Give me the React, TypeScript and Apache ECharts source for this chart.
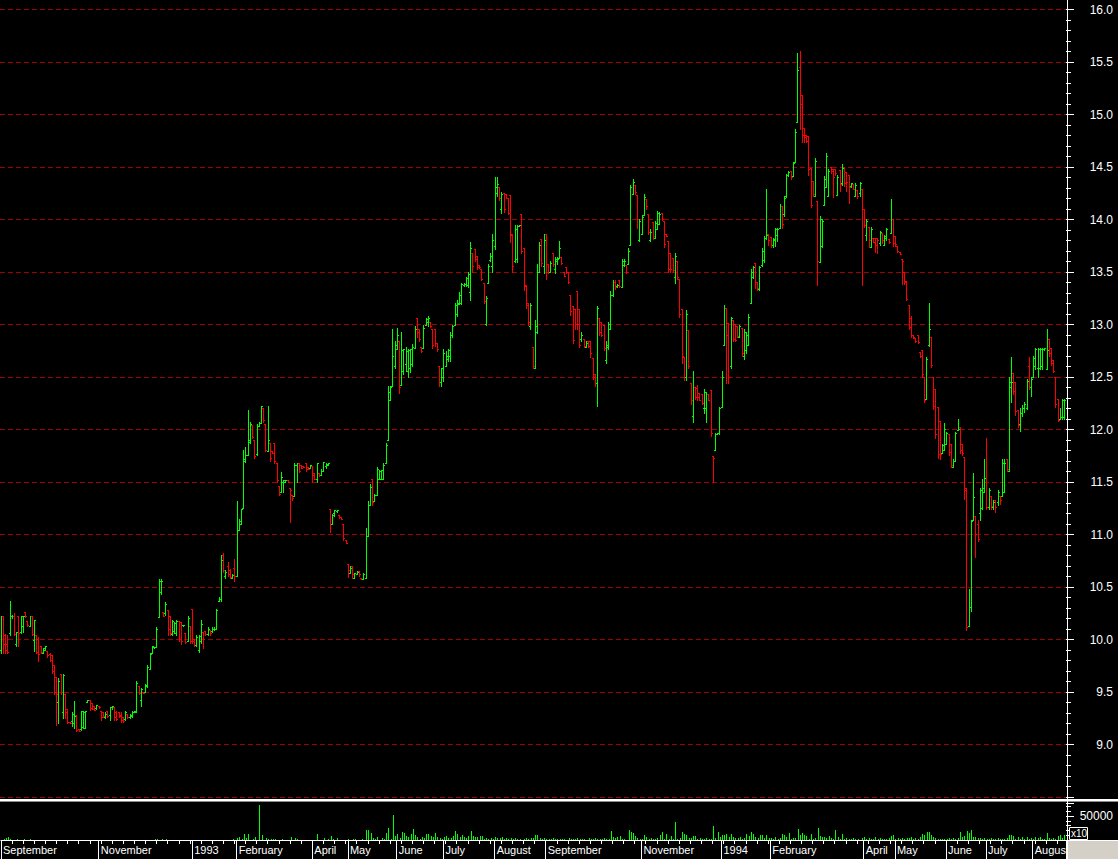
import React, { useEffect, useRef } from "react";
import * as echarts from "echarts";

// [open, high, low, close] per trading day
const priceBars: number[][] = [
  // Sep-Oct 1992
  [9.90,10.22,9.87,10.22],[10.22,10.22,9.87,9.95],[10.04,10.05,9.87,9.90],[9.95,10.04,9.87,9.88],[10.06,10.36,10.04,10.22],
  [10.22,10.23,10.20,10.22],[10.22,10.25,10.04,10.05],[9.95,10.07,9.93,10.07],[10.22,10.22,9.93,10.06],[10.07,10.22,10.06,10.22],
  [10.12,10.22,10.07,10.22],[10.26,10.26,10.21,10.22],[10.17,10.17,10.12,10.13],[10.12,10.22,10.12,10.22],[10.22,10.22,10.04,10.05],
  [9.99,10.18,9.89,10.18],[10.04,10.04,9.87,9.88],[10.00,10.02,9.79,9.86],[9.93,9.93,9.87,9.88],[9.87,9.91,9.87,9.91],
  [9.90,9.93,9.90,9.93],[9.89,9.89,9.83,9.85],[9.86,9.87,9.79,9.80],[9.85,9.85,9.68,9.70],[9.75,9.75,9.48,9.50],
  [9.64,9.64,9.18,9.48],[9.40,9.63,9.20,9.60],[9.67,9.67,9.48,9.50],[9.30,9.67,9.25,9.66],[9.48,9.48,9.25,9.30],
  [9.33,9.33,9.20,9.21],[9.21,9.21,9.20,9.20],[9.22,9.30,9.17,9.29],[9.20,9.41,9.15,9.27],[9.28,9.28,9.12,9.13],
  [9.14,9.14,9.12,9.12],[9.14,9.31,9.13,9.31],[9.16,9.31,9.15,9.30],[9.15,9.31,9.15,9.31],[9.40,9.42,9.40,9.42],
  [9.42,9.42,9.32,9.34],[9.39,9.39,9.33,9.33],[9.36,9.36,9.32,9.32],[9.34,9.37,9.33,9.37],
  // Nov-Dec 1992
  [9.36,9.36,9.34,9.35],[9.31,9.31,9.23,9.26],[9.30,9.30,9.26,9.27],[9.26,9.30,9.25,9.29],[9.31,9.31,9.26,9.27],
  [9.28,9.35,9.23,9.35],[9.35,9.36,9.33,9.36],[9.35,9.35,9.23,9.26],[9.30,9.31,9.23,9.24],[9.30,9.30,9.26,9.27],
  [9.28,9.30,9.21,9.23],[9.26,9.26,9.21,9.22],[9.24,9.31,9.23,9.30],[9.29,9.29,9.25,9.26],[9.26,9.29,9.25,9.28],
  [9.27,9.31,9.26,9.30],[9.30,9.31,9.30,9.31],[9.30,9.60,9.30,9.58],[9.55,9.55,9.48,9.49],[9.42,9.53,9.36,9.52],
  [9.50,9.50,9.49,9.49],[9.50,9.57,9.50,9.56],[9.55,9.75,9.54,9.73],[9.71,9.87,9.71,9.86],[9.87,9.93,9.87,9.93],
  [9.92,9.92,9.91,9.92],[9.92,10.11,9.92,10.10],[10.21,10.57,10.21,10.55],[10.45,10.57,10.43,10.55],[10.26,10.26,10.22,10.22],
  [10.25,10.35,10.23,10.33],[10.28,10.28,10.04,10.10],[10.22,10.22,10.04,10.06],[10.05,10.18,10.04,10.17],[10.08,10.16,10.06,10.15],
  [10.06,10.18,10.04,10.17],[10.17,10.17,9.98,10.00],[10.16,10.16,9.95,9.98],[10.13,10.13,10.12,10.13],[10.06,10.06,9.96,9.97],
  [9.98,10.22,9.98,10.20],[10.12,10.12,9.96,9.98],
  // Jan 1993
  [10.29,10.29,9.96,9.98],[10.00,10.00,9.93,9.94],[9.94,10.04,9.93,10.02],[9.90,10.04,9.88,10.03],[9.98,10.18,9.96,10.14],
  [10.07,10.07,9.91,10.00],[10.08,10.08,10.04,10.05],[10.05,10.11,10.04,10.10],[10.09,10.09,10.04,10.06],[10.08,10.11,10.07,10.10],
  [10.10,10.11,10.09,10.10],[10.10,10.29,10.10,10.28],[10.36,10.40,10.36,10.38],[10.38,10.80,10.36,10.75],[10.80,10.82,10.64,10.66],
  [10.60,10.66,10.58,10.64],[10.70,10.73,10.60,10.62],[10.66,10.67,10.58,10.59],[10.58,10.62,10.58,10.61],[10.68,10.76,10.55,10.60],
  // Feb-Mar 1993
  [10.60,11.31,10.60,11.04],[11.04,11.14,11.04,11.10],[11.12,11.24,11.10,11.24],[11.25,11.80,11.25,11.71],[11.70,11.83,11.69,11.75],
  [11.75,12.18,11.75,11.90],[11.88,12.07,11.87,12.05],[12.04,12.04,11.91,11.92],[11.90,11.90,11.72,11.74],[11.76,12.05,11.75,12.03],
  [12.03,12.07,12.03,12.06],[12.06,12.22,12.06,12.22],[12.20,12.20,12.07,12.09],[12.05,12.05,11.79,11.80],[11.79,12.22,11.79,11.90],
  [11.87,11.87,11.70,11.72],[11.79,11.79,11.77,11.77],[11.87,11.87,11.68,11.70],[11.68,11.68,11.50,11.51],[11.46,11.46,11.37,11.38],
  [11.40,11.59,11.40,11.54],[11.50,11.51,11.40,11.51],[11.50,11.51,11.50,11.51],[11.51,11.51,11.50,11.50],[11.44,11.44,11.11,11.42],
  [11.37,11.37,11.32,11.34],[11.36,11.68,11.36,11.66],[11.66,11.68,11.50,11.68],[11.68,11.68,11.59,11.60],[11.66,11.66,11.63,11.63],
  [11.65,11.65,11.64,11.64],[11.68,11.68,11.60,11.62],[11.64,11.64,11.62,11.62],[11.63,11.66,11.63,11.66],
  // Apr 1993
  [11.65,11.65,11.50,11.56],[11.58,11.58,11.52,11.52],[11.52,11.68,11.50,11.68],[11.58,11.58,11.55,11.56],[11.56,11.62,11.56,11.60],
  [11.60,11.69,11.60,11.69],[11.65,11.68,11.63,11.67],[11.66,11.68,11.66,11.68],[11.24,11.24,11.02,11.10],[11.10,11.19,11.10,11.18],
  [11.20,11.23,11.17,11.23],[11.22,11.23,11.21,11.23],[11.18,11.18,11.15,11.16],[11.16,11.16,11.14,11.14],[11.10,11.10,10.94,10.96],
  [10.94,10.94,10.91,10.91],
  // May 1993
  [10.71,10.71,10.59,10.66],[10.63,10.70,10.63,10.68],[10.70,10.70,10.58,10.62],[10.58,10.63,10.58,10.63],[10.62,10.65,10.62,10.64],
  [10.65,10.65,10.60,10.62],[10.58,10.58,10.57,10.57],[10.57,10.63,10.57,10.62],[10.58,11.06,10.58,10.98],[10.98,11.31,10.98,11.28],
  [11.28,11.48,11.28,11.45],[11.52,11.52,11.28,11.30],[11.31,11.38,11.31,11.37],[11.37,11.64,11.37,11.62],[11.52,11.61,11.52,11.60],
  [11.52,11.61,11.52,11.61],[11.52,11.68,11.52,11.66],[11.68,11.87,11.68,11.85],[11.90,12.41,11.90,12.35],[12.28,12.41,12.28,12.40],
  [12.41,12.95,12.41,12.70],[12.60,12.84,12.58,12.80],
  // Jun 1993
  [12.76,12.96,12.76,12.90],[12.84,12.84,12.34,12.40],[12.42,12.92,12.42,12.75],[12.55,12.76,12.52,12.76],[12.62,12.78,12.55,12.74],
  [12.55,12.76,12.50,12.75],[12.58,12.76,12.54,12.76],[12.62,12.81,12.60,12.78],[12.77,12.98,12.77,12.95],[13.06,13.06,12.88,12.92],
  [12.95,12.95,12.84,12.86],[12.78,12.78,12.73,12.74],[12.77,12.99,12.77,12.96],[12.99,13.06,12.99,13.05],[13.02,13.08,12.98,13.06],
  [13.02,13.02,12.97,12.98],[12.95,12.95,12.77,12.80],[12.95,12.95,12.79,12.82],[12.82,12.82,12.74,12.76],[12.60,12.60,12.41,12.45],
  [12.45,12.58,12.41,12.58],
  // Jul 1993
  [12.50,12.76,12.46,12.72],[12.60,12.74,12.60,12.70],[12.67,12.76,12.65,12.75],[12.70,12.92,12.65,12.90],[12.90,12.99,12.88,12.98],
  [12.99,13.20,12.99,13.18],[13.10,13.23,13.08,13.20],[13.19,13.30,13.19,13.28],[13.20,13.39,13.19,13.38],[13.37,13.39,13.36,13.38],
  [13.38,13.45,13.36,13.44],[13.37,13.50,13.35,13.48],[13.30,13.78,13.23,13.72],[13.68,13.68,13.50,13.55],[13.71,13.71,13.60,13.62],
  [13.65,13.65,13.52,13.54],[13.56,13.56,13.53,13.54],[13.52,13.52,13.42,13.43],[13.39,13.39,13.20,13.22],[13.00,13.27,12.99,13.25],
  [13.39,13.57,13.39,13.55],[13.61,13.68,13.60,13.65],[13.55,13.86,13.50,13.80],
  // Aug 1993
  [13.74,14.40,13.71,14.30],[14.25,14.40,14.22,14.33],[14.30,14.30,14.18,14.20],[14.10,14.26,14.06,14.24],[14.25,14.25,14.07,14.10],
  [14.24,14.24,14.20,14.20],[14.20,14.20,14.05,14.06],[14.23,14.23,13.78,13.85],[13.86,13.86,13.50,13.55],[13.60,13.94,13.59,13.90],
  [13.62,13.94,13.59,13.93],[13.93,13.94,13.93,13.94],[14.05,14.05,13.68,13.70],[13.72,13.72,13.32,13.36],[13.37,13.37,13.15,13.18],
  [13.20,13.20,12.99,13.02],[12.98,13.20,12.95,13.18],[12.78,12.78,12.58,12.60],[12.58,13.04,12.58,12.98],[12.92,13.57,12.91,13.50],
  [13.50,13.78,13.50,13.75],[13.81,13.81,13.55,13.58],[13.55,13.86,13.49,13.80],
  // Sep-Oct 1993
  [13.86,13.86,13.43,13.50],[13.57,13.57,13.49,13.50],[13.50,13.60,13.50,13.58],[13.68,13.68,13.55,13.57],[13.52,13.64,13.49,13.62],
  [13.60,13.64,13.57,13.62],[13.63,13.79,13.63,13.72],[13.64,13.64,13.57,13.58],[13.50,13.50,13.46,13.46],[13.54,13.54,13.49,13.50],
  [13.50,13.50,13.39,13.40],[13.28,13.28,13.09,13.12],[13.17,13.17,12.82,12.85],[13.14,13.14,12.95,13.00],[13.31,13.31,12.95,13.00],
  [13.14,13.14,12.78,12.80],[12.86,12.92,12.84,12.90],[12.86,12.86,12.78,12.79],[12.78,12.84,12.78,12.82],[12.84,12.84,12.78,12.79],
  [12.84,12.84,12.69,12.72],[12.68,12.68,12.48,12.50],[12.52,12.52,12.41,12.44],[12.44,13.17,12.22,13.15],[13.06,13.06,12.90,12.92],
  [13.02,13.02,12.89,12.90],[12.99,12.99,12.75,12.77],[12.66,12.84,12.63,12.80],[12.78,13.02,12.76,13.00],[12.95,13.31,12.95,13.28],
  [13.28,13.42,13.27,13.40],[13.40,13.42,13.33,13.35],[13.36,13.38,13.35,13.37],[13.42,13.42,13.35,13.36],[13.35,13.62,13.35,13.60],
  [13.56,13.62,13.55,13.60],[13.56,13.56,13.49,13.50],[13.57,13.72,13.57,13.70],[13.75,14.32,13.75,14.30],[14.24,14.38,14.24,14.35],
  [14.32,14.32,14.24,14.26],[14.23,14.23,13.91,14.00],[13.80,14.00,13.79,13.98],
  // Nov-Dec 1993
  [13.86,14.04,13.86,14.02],[14.04,14.24,14.04,14.21],[14.19,14.19,14.10,14.12],[14.05,14.05,13.86,13.88],[13.80,13.90,13.79,13.88],
  [13.97,13.97,13.81,13.84],[13.82,13.98,13.82,13.96],[13.90,14.08,13.90,14.06],[13.95,14.07,13.95,14.05],[14.06,14.06,13.99,14.00],
  [13.98,13.98,13.73,13.76],[13.86,13.86,13.84,13.84],[13.79,13.79,13.50,13.52],[13.68,13.68,13.50,13.52],[13.63,13.63,13.50,13.51],
  [13.45,13.68,13.39,13.65],[13.60,13.60,13.43,13.45],[13.43,13.43,13.07,13.10],[13.14,13.14,12.63,12.70],[12.69,12.69,12.47,12.50],
  [12.50,13.13,12.47,13.10],[12.94,12.94,12.58,12.60],[12.44,12.44,12.24,12.28],[12.12,12.55,12.07,12.40],[12.40,12.40,12.29,12.30],
  [12.39,12.42,12.28,12.30],[12.34,12.34,12.28,12.28],[12.33,12.33,12.24,12.25],[12.20,12.38,12.15,12.35],[12.20,12.35,12.07,12.33],
  [12.33,12.33,12.28,12.28],[12.37,12.37,11.93,11.96],[11.74,11.74,11.50,11.72],[11.80,11.96,11.80,11.95],[11.95,11.96,11.95,11.96],
  [11.96,12.21,11.95,12.20],
  // Jan 1994
  [12.21,12.55,12.21,12.50],[12.80,13.18,12.80,13.15],[13.15,13.15,12.44,12.90],[13.01,13.01,12.44,12.50],[12.60,13.07,12.58,13.06],
  [13.04,13.04,12.84,12.86],[13.00,13.00,12.84,12.85],[12.98,12.98,12.88,12.89],[12.88,12.99,12.88,12.98],[12.96,12.96,12.70,12.72],
  [12.70,12.95,12.67,12.92],[12.75,12.92,12.72,12.90],[12.80,13.10,12.80,13.07],[13.20,13.52,13.20,13.50],[13.45,13.55,13.44,13.54],
  [13.58,13.58,13.34,13.40],[13.40,13.40,13.32,13.34],[13.33,13.55,13.32,13.54],[13.56,13.72,13.55,13.70],[13.61,13.84,13.59,13.82],
  [13.82,14.29,13.81,13.85],[13.86,13.86,13.75,13.80],
  // Feb-Mar 1994
  [13.83,13.83,13.73,13.75],[13.75,13.82,13.73,13.81],[13.80,13.91,13.74,13.90],[13.85,13.91,13.79,13.90],[13.91,14.14,13.91,14.12],
  [14.12,14.12,13.91,13.95],[14.05,14.22,14.03,14.20],[14.22,14.43,14.21,14.42],[14.42,14.46,14.41,14.45],[14.46,14.46,14.38,14.40],
  [14.41,14.54,14.41,14.53],[14.54,14.86,14.54,14.83],[14.92,15.58,14.92,15.42],[15.45,15.60,14.86,15.10],[15.18,15.18,14.73,14.80],
  [14.87,14.87,14.73,14.78],[14.80,14.80,14.73,14.74],[14.79,14.79,14.42,14.48],[14.49,14.49,14.11,14.13],[14.36,14.36,14.22,14.24],
  [14.22,14.58,14.22,14.55],[14.17,14.17,13.37,13.60],[13.59,14.03,13.59,14.00],[13.74,14.00,13.73,13.98],[14.13,14.41,14.13,14.38],
  [14.30,14.63,14.30,14.60],[14.22,14.48,14.22,14.46],[14.50,14.50,14.44,14.46],[14.48,14.48,14.21,14.40],[14.48,14.48,14.42,14.44],
  [14.23,14.42,14.23,14.40],[14.47,14.47,14.27,14.33],[14.34,14.52,14.32,14.49],[14.50,14.50,14.31,14.34],[14.45,14.45,14.27,14.35],
  [14.42,14.42,14.15,14.30],[14.31,14.34,14.30,14.34],[14.33,14.33,14.29,14.29],[14.22,14.34,14.22,14.32],[14.28,14.28,14.20,14.22],
  [14.25,14.35,14.22,14.34],[14.29,14.29,13.37,14.10],
  // Apr 1994
  [14.10,14.10,13.92,13.94],[13.85,14.00,13.80,13.98],[13.92,13.92,13.73,13.80],[13.73,13.92,13.73,13.90],[13.82,13.82,13.78,13.78],
  [13.82,13.82,13.69,13.75],[13.82,13.82,13.68,13.80],[13.77,13.89,13.75,13.88],[13.87,13.87,13.77,13.80],[13.75,13.85,13.75,13.84],
  [13.82,13.91,13.80,13.90],[13.81,13.81,13.77,13.78],[13.87,14.19,13.87,14.00],[14.00,14.00,13.74,13.77],
  // May 1994
  [13.84,13.84,13.74,13.76],[13.74,13.74,13.69,13.70],[13.69,13.69,13.67,13.67],[13.62,13.62,13.38,13.60],[13.50,13.50,13.38,13.40],
  [13.41,13.41,13.23,13.24],[13.18,13.18,12.95,12.97],[13.06,13.08,12.88,12.90],[12.90,12.90,12.87,12.88],[12.87,12.87,12.83,12.84],
  [12.90,12.90,12.82,12.83],[12.73,12.73,12.69,12.70],[12.75,12.75,12.50,12.52],[12.50,12.50,12.26,12.28],[12.29,12.69,12.29,12.67],
  [12.80,13.20,12.79,12.95],[12.88,12.88,12.59,12.61],[12.50,12.50,12.19,12.22],[12.38,12.38,11.91,11.95],[12.21,12.21,11.72,11.76],
  [12.08,12.08,11.71,11.76],[11.77,11.86,11.77,11.85],[11.80,12.06,11.80,12.00],
  // Jun 1994
  [11.86,11.97,11.86,11.96],[11.95,11.95,11.75,11.78],[11.86,11.86,11.64,11.66],[11.64,11.71,11.64,11.70],[11.70,11.97,11.70,11.96],
  [11.99,12.10,11.99,12.00],[12.02,12.02,11.77,11.80],[11.86,11.86,11.75,11.77],[11.73,11.73,11.33,11.42],[11.44,11.44,10.09,10.11],
  [10.12,10.48,10.12,10.30],[10.30,11.13,10.27,11.12],[11.13,11.58,11.13,11.35],[11.17,11.17,10.78,11.00],[11.10,11.13,10.93,10.95],
  [11.20,11.44,11.13,11.42],[11.25,11.52,11.24,11.44],[11.40,11.71,11.40,11.53],
  // Jul 1994
  [11.50,11.91,11.24,11.26],[11.26,11.44,11.24,11.42],[11.36,11.36,11.24,11.27],[11.26,11.32,11.24,11.30],[11.32,11.32,11.21,11.26],
  [11.30,11.42,11.28,11.40],[11.36,11.36,11.29,11.32],[11.36,11.71,11.36,11.68],[11.40,11.71,11.40,11.68],[11.71,11.71,11.60,11.62],
  [11.60,12.50,11.60,12.45],[12.40,12.69,12.26,12.45],[12.53,12.53,12.33,12.36],[12.45,12.45,12.13,12.17],[12.18,12.18,12.02,12.04],
  [12.05,12.20,11.98,12.15],[12.15,12.23,12.12,12.20],[12.20,12.26,12.16,12.24],[12.20,12.48,12.19,12.46],[12.60,12.69,12.38,12.40],
  [12.40,12.50,12.31,12.48],
  // Aug 1994
  [12.50,12.70,12.50,12.68],[12.60,12.77,12.57,12.76],[12.58,12.77,12.50,12.76],[12.58,12.77,12.57,12.76],[12.60,12.77,12.57,12.76],
  [12.76,12.77,12.75,12.77],[12.57,12.95,12.57,12.75],[12.86,12.86,12.70,12.72],[12.77,12.77,12.61,12.63],[12.66,12.66,12.54,12.55],
  [12.50,12.50,12.21,12.24],[12.29,12.29,12.08,12.09],[12.10,12.20,12.10,12.11],[12.11,12.29,12.10,12.28],[12.11,12.29,12.10,12.28],
];

const volumes: number[] = [
  // Sep-Oct 1992
  0,2000,4000,6000,2000,0,0,2000,0,0, 2000,0,0,2000,0,0,0,0,0,0, 0,0,0,0,0,0,0,0,0,0, 0,0,0,0,0,0,0,0,0,0, 0,0,0,0,
  // Nov-Dec 1992
  0,0,0,0,0,0,0,0,0,0, 0,0,0,0,0,0,0,0,0,0, 0,0,0,0,0,2000,2000,0,2000,0, 2000,0,0,0,0,0,0,0,0,0, 0,0,
  // Jan 1993
  0,0,0,0,0,0,0,0,0,0, 0,0,0,0,0,0,0,0,2000,0,
  // Feb-Mar 1993
  4000,6000,2000,12000,4000,12000,0,2000,6000,0, 72000,10000,0,4000,2000,2000,2000,2000,0,0, 2000,0,0,0,6000,0,4000,2000,0,0, 0,0,0,0,
  // Apr 1993
  0,0,12000,0,0,4000,0,2000,8000,2000, 0,4000,0,0,0,0,
  // May 1993
  2000,0,2000,2000,0,0,2000,0,21000,21000, 14000,4000,2000,6000,0,4000,2000,14000,25000,2000, 52000,8000,
  // Jun 1993
  12000,4000,16000,14000,8000,6000,12000,23000,10000,6000, 2000,6000,4000,12000,12000,8000,6000,14000,6000,4000, 2000,
  // Jul 1993
  6000,8000,4000,4000,8000,19000,12000,6000,10000,6000, 4000,8000,19000,8000,6000,6000,8000,8000,2000,4000, 2000,4000,2000,
  // Aug 1993
  6000,4000,4000,6000,2000,4000,2000,4000,2000,4000, 2000,2000,0,2000,4000,2000,4000,4000,10000,10000, 4000,2000,4000,
  // Sep-Oct 1993
  2000,2000,2000,4000,2000,2000,2000,2000,2000,0, 4000,2000,2000,2000,4000,2000,2000,2000,0,4000, 2000,2000,4000,2000,2000,2000,4000,2000,2000,18000,
  6000,4000,6000,8000,2000,2000,0,21000,16000,14000, 8000,4000,2000,
  // Nov-Dec 1993
  2000,10000,6000,2000,4000,2000,2000,4000,10000,16000, 2000,12000,2000,8000,2000,37000,2000,4000,16000,12000,
  10000,4000,4000,8000,8000,2000,4000,2000,2000,4000, 2000,2000,29000,4000,16000,6000,
  // Jan 1994
  10000,10000,12000,6000,12000,6000,4000,4000,6000,2000, 4000,12000,8000,16000,12000,6000,4000,10000,10000,4000, 10000,4000,
  // Feb-Mar 1994
  4000,2000,6000,2000,4000,12000,10000,6000,14000,2000, 4000,4000,23000,10000,14000,10000,8000,2000,12000,2000,
  4000,25000,8000,6000,6000,4000,8000,4000,2000,21000, 6000,2000,12000,2000,4000,2000,2000,4000,2000,2000, 0,4000,
  // Apr 1994
  6000,2000,4000,2000,2000,6000,2000,4000,2000,2000, 2000,4000,8000,10000,
  // May 1994
  2000,4000,2000,4000,2000,4000,4000,6000,2000,4000, 2000,6000,12000,10000,16000,16000,10000,6000,4000,2000, 2000,2000,2000,
  // Jun 1994
  2000,4000,2000,4000,2000,4000,16000,6000,8000,19000, 14000,21000,6000,6000,4000,4000,2000,4000,
  // Jul 1994
  2000,2000,4000,2000,2000,4000,2000,2000,2000,4000, 10000,10000,8000,2000,6000,2000,6000,2000,6000,2000, 4000,
  // Aug 1994
  2000,6000,4000,6000,2000,2000,14000,4000,2000,4000, 2000,8000,10000,4000,10000,
];

const monthLabels = ["September","November","1993","February","April","May","June","July","August","September","November","1994","February","April","May","June","July","August"];
const monthStarts = [0,44,86,106,140,156,178,199,222,245,288,324,346,388,402,425,443,464];

const priceGridValues = [8.5, 9.0, 9.5, 10.0, 10.5, 11.0, 11.5, 12.0, 12.5, 13.0, 13.5, 14.0, 14.5, 15.0, 15.5, 16.0];
const priceMin = 8.5;
const priceMax = 16.0;
const priceStep = 0.5;
const volumeLabelValue = 50000;

const FONT = "'Liberation Sans', Arial, sans-serif";
const UP = "#00ff00";
const DOWN = "#ff0000";
const GRID_RED = "#a00000";

export default function App() {
  const ref = useRef<HTMLDivElement>(null);

  useEffect(() => {
    if (!ref.current) return;
    const chart = echarts.init(ref.current, undefined, { renderer: "svg" });
    const cats = priceBars.map((_, i) => String(i));
    const ohlcData = priceBars.map((b, i) => [i, b[0], b[1], b[2], b[3]]);
    const volData = volumes.map((v, i) => [i, v]);
    const gridData = priceGridValues.map((v) => [0, v]);

    const renderOhlc = (params: any, api: any) => {
      const i = api.value(0);
      const o = api.value(1), h = api.value(2), l = api.value(3), c = api.value(4);
      const pH = api.coord([i, h]);
      const pL = api.coord([i, l]);
      const pO = api.coord([i, o]);
      const pC = api.coord([i, c]);
      const col = Math.floor(pH[0]);
      const color = c >= o ? UP : DOWN;
      const st = { stroke: color, lineWidth: 1 };
      const yo = Math.floor(pO[1]) + 0.5;
      const yc = Math.floor(pC[1]) + 0.5;
      return {
        type: "group",
        children: [
          { type: "line", shape: { x1: col + 0.5, y1: Math.floor(pH[1]), x2: col + 0.5, y2: Math.floor(pL[1]) + 1 }, style: st },
          { type: "line", shape: { x1: col - 1, y1: yo, x2: col, y2: yo }, style: st },
          { type: "line", shape: { x1: col + 1, y1: yc, x2: col + 2, y2: yc }, style: st },
        ],
      };
    };

    const renderGridLine = (params: any, api: any) => {
      const cs = params.coordSys;
      const y = Math.floor(api.coord([0, api.value(1)])[1] + 0.01) + 0.5;
      return {
        type: "line",
        shape: { x1: cs.x, y1: y, x2: cs.x + cs.width, y2: y },
        style: { stroke: GRID_RED, lineWidth: 1, lineDash: [5, 3] },
      };
    };

    const renderVol = (params: any, api: any) => {
      const i = api.value(0);
      const v = api.value(1);
      if (!v) return null;
      const p0 = api.coord([i, 0]);
      const p1 = api.coord([i, v]);
      const col = Math.floor(p0[0]) + 0.5;
      return {
        type: "line",
        shape: { x1: col, y1: Math.round(p0[1]), x2: col, y2: Math.round(p1[1]) },
        style: { stroke: UP, lineWidth: 1 },
      };
    };

    const volMax = (37 / 24) * volumeLabelValue;

    chart.setOption({
      animation: false,
      backgroundColor: "#000",
      grid: [
        { left: 0, right: 52, top: 9.5, height: 787.5 },
        { left: 0, right: 52, top: 803, height: 37 },
      ],
      xAxis: [
        { type: "category", gridIndex: 0, data: cats, boundaryGap: true, show: false },
        {
          type: "category", gridIndex: 1, data: cats, boundaryGap: true, position: "bottom",
          axisLine: { show: true, lineStyle: { color: "#fff", width: 1 } },
          axisTick: { show: true, interval: (i: number) => i % 5 === 0, length: 4, lineStyle: { color: "#fff" } },
          axisLabel: { show: false },
          splitLine: { show: false },
        },
        {
          type: "category", gridIndex: 1, data: cats, boundaryGap: true, position: "bottom",
          axisLine: { show: false },
          axisTick: { show: true, interval: (i: number) => monthStarts.includes(i), length: 19, lineStyle: { color: "#fff" } },
          axisLabel: {
            show: true,
            interval: (i: number) => monthStarts.includes(i),
            formatter: (_v: string, i: number) => monthLabels[monthStarts.indexOf(i)] ?? "",
            color: "#fff", fontSize: 11, fontFamily: FONT, align: "left", margin: 4, padding: [0, 0, 0, 1],
          },
          splitLine: { show: false },
        },
      ],
      yAxis: [
        {
          type: "value", gridIndex: 0, position: "right", min: priceMin, max: priceMax, interval: priceStep,
          axisLine: { show: false },
          axisTick: { show: true, length: 8, lineStyle: { color: "#fff" } },
          minorTick: { show: true, splitNumber: 5, length: 5, lineStyle: { color: "#fff" } },
          axisLabel: {
            color: "#fff", fontSize: 12, fontFamily: FONT, align: "right", margin: 47,
            formatter: (v: number) => (v <= priceMin + 1e-6 ? "" : v.toFixed(1)),
          },
          splitLine: { show: false },
        },
        {
          type: "value", gridIndex: 1, position: "right", min: 0, max: volMax, interval: volumeLabelValue,
          axisLine: { show: false },
          axisTick: { show: true, length: 8, lineStyle: { color: "#fff" } },
          minorTick: { show: true, splitNumber: 5, length: 5, lineStyle: { color: "#fff" } },
          axisLabel: {
            color: "#fff", fontSize: 12, fontFamily: FONT, align: "right", margin: 47,
            formatter: (v: number) => (Math.abs(v - volumeLabelValue) < 1 ? String(volumeLabelValue) : ""),
          },
          splitLine: { show: false },
        },
      ],
      series: [
        { type: "custom", xAxisIndex: 0, yAxisIndex: 0, z: 1, data: gridData, renderItem: renderGridLine, silent: true },
        { type: "custom", xAxisIndex: 0, yAxisIndex: 0, z: 2, data: ohlcData, renderItem: renderOhlc, encode: { x: 0, y: [1, 2, 3, 4] } },
        { type: "custom", xAxisIndex: 1, yAxisIndex: 1, z: 2, data: volData, renderItem: renderVol, encode: { x: 0, y: 1 } },
      ],
      graphic: [
        { type: "rect", z: 100, shape: { x: 0, y: 799, width: 1118, height: 2 }, style: { fill: "#ffffff" } },
        { type: "line", z: 100, shape: { x1: 0, y1: 801.5, x2: 1118, y2: 801.5 }, style: { stroke: "#8c8c8c", lineWidth: 1 } },
        { type: "line", z: 100, shape: { x1: 1067.5, y1: 0, x2: 1067.5, y2: 859 }, style: { stroke: "#ffffff", lineWidth: 1 } },
        { type: "line", z: 100, shape: { x1: 1066, y1: 840.5, x2: 1118, y2: 840.5 }, style: { stroke: "#ffffff", lineWidth: 1 } },
        { type: "rect", z: 100, shape: { x: 1068, y: 841, width: 50, height: 18 }, style: { fill: "#d4d0c8" } },
        { type: "rect", z: 100, shape: { x: 1069.5, y: 827.5, width: 18, height: 12 }, style: { fill: "#000", stroke: "#ffffff", lineWidth: 1 } },
        { type: "text", z: 101, x: 1071, y: 828.5, style: { text: "x10", fill: "#ffffff", fontSize: 10, fontFamily: FONT } },
      ],
    });
    return () => chart.dispose();
  }, []);

  return <div ref={ref} style={{ position: "fixed", left: 0, top: 0, width: 1118, height: 859 }} />;
}
